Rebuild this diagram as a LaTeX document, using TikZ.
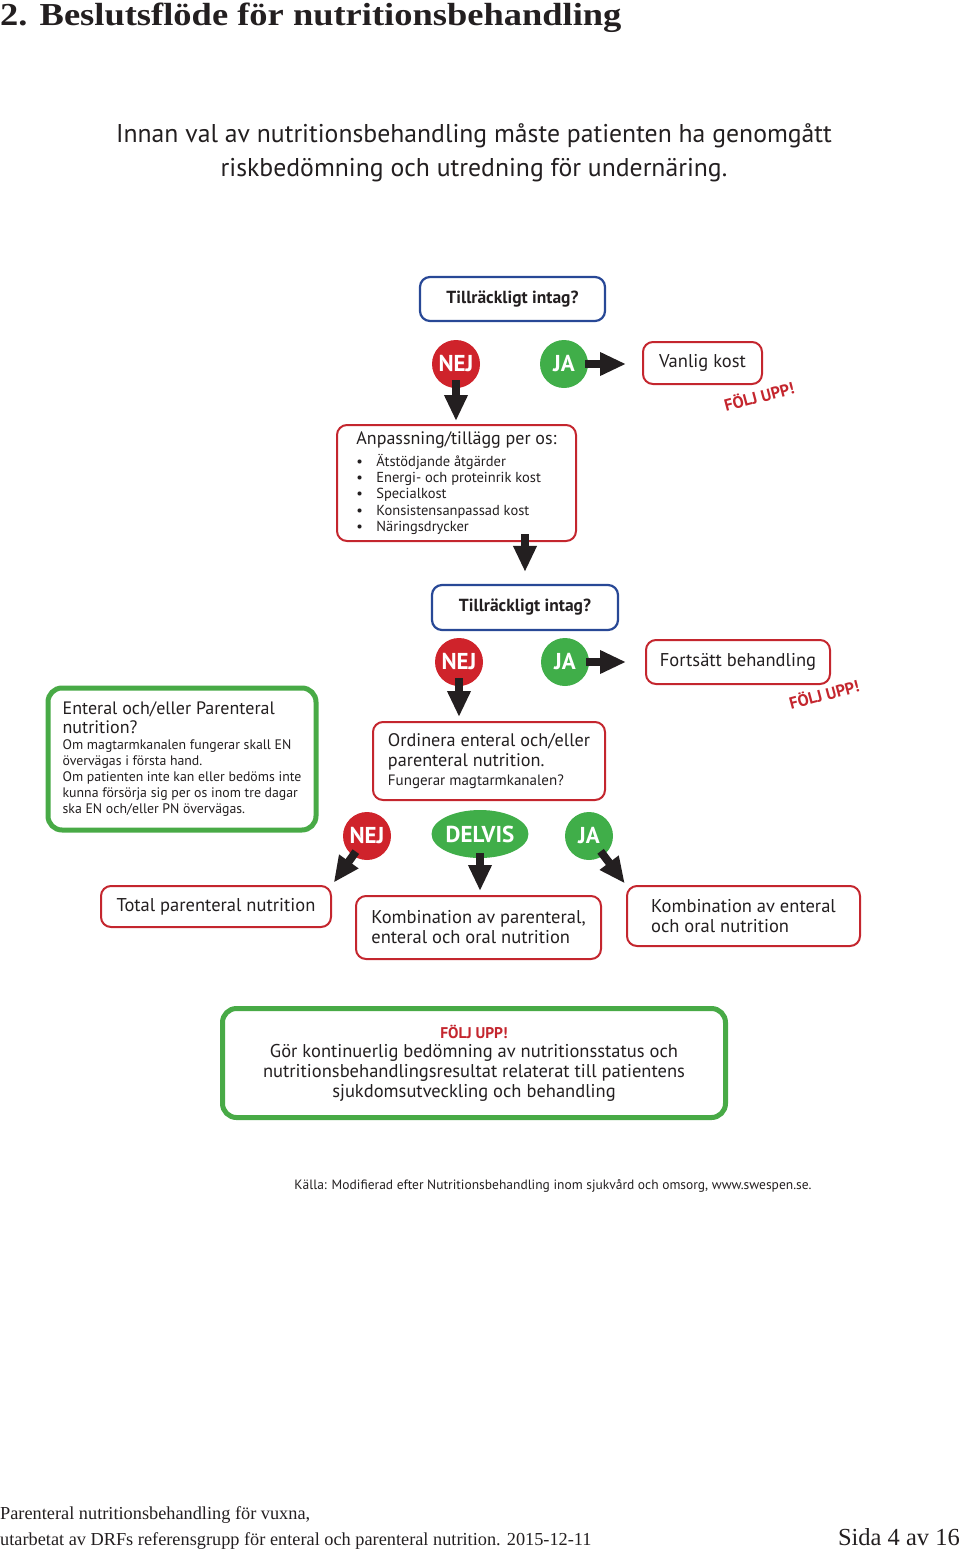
\documentclass[tikz,border=0pt]{standalone}
\usepackage{fontspec}
\setmainfont{PT Sans}
\newfontfamily\titlefont[FakeStretch=1.14]{Liberation Serif}
\newfontfamily\footfont{Liberation Serif}
\usetikzlibrary{arrows.meta,shapes.geometric}

\definecolor{inkblack}{RGB}{35,31,32}
\definecolor{nejred}{RGB}{207,35,43}
\definecolor{jagreen}{RGB}{64,174,73}
\definecolor{boxred}{RGB}{196,38,46}
\definecolor{qblue}{RGB}{40,72,150}
\definecolor{boxgreen}{RGB}{72,170,70}

\newcommand{\fsz}[2]{\fontsize{#1}{#2}\selectfont}

\begin{document}
\begin{tikzpicture}[x=1pt, y=-1pt,
    every node/.style={text=inkblack, inner sep=0pt},
    qbox/.style={draw=qblue, line width=2.2pt, rounded corners=10pt, fill=white, font=\bfseries\fsz{17.5}{20}},
    rbox/.style={draw=boxred, line width=2pt, rounded corners=10pt, fill=white, align=left, font=\fsz{18.5}{20}},
    gbox/.style={draw=boxgreen, line width=5pt, rounded corners=14pt, fill=white},
    answer/.style={circle, minimum size=48pt, text=white, font=\bfseries\fsz{23}{23}},
    nejc/.style={answer, fill=nejred},
    jac/.style={answer, fill=jagreen},
    foljupp/.style={text=boxred, font=\bfseries\fsz{16.5}{16.5}, rotate=15},
    blockarrow/.style={draw=inkblack, line width=8pt, -{Triangle[length=26pt,width=22pt]}}]

    \useasboundingbox (0,0) rectangle (960,1550);

    % Rubrik och inledning
    \node[anchor=base west, font=\titlefont\bfseries\fsz{32}{34}] (rubrik) at (0,25) {2. Beslutsflöde för nutritionsbehandling};
    \node[align=center, font=\fsz{25.7}{34}] (intro) at (474,153) {Innan val av nutritionsbehandling måste patienten ha genomgått\\riskbedömning och utredning för undernäring.};

    % Första frågan
    \node[qbox, minimum width=185pt, minimum height=44pt] (fraga1) at (512.5,299) {Tillräckligt intag?};
    \node[nejc] (nej1) at (456,364) {NEJ};
    \node[jac] (ja1) at (564,364) {JA};
    \node[rbox, minimum width=119pt, minimum height=42pt] (vanlig) at (702.5,363) {Vanlig kost};
    \node[foljupp] (folj1) at (759,396) {FÖLJ UPP!};
    \node[rbox, minimum width=239pt, minimum height=116pt, font=\fsz{14.5}{16.3}] (anpassning) at (456.5,483)
        {\fsz{18}{16.3}Anpassning/tillägg per os:\\[5.7pt]
         \makebox[20pt][l]{•}Ätstödjande åtgärder\\
         \makebox[20pt][l]{•}Energi- och proteinrik kost\\
         \makebox[20pt][l]{•}Specialkost\\
         \makebox[20pt][l]{•}Konsistensanpassad kost\\
         \makebox[20pt][l]{•}Näringsdrycker};

    % Andra frågan
    \node[qbox, minimum width=186pt, minimum height=45pt] (fraga2) at (525,607.5) {Tillräckligt intag?};
    \node[nejc] (nej2) at (459,662) {NEJ};
    \node[jac] (ja2) at (565,662) {JA};
    \node[rbox, minimum width=184pt, minimum height=44pt] (fortsatt) at (738,662) {Fortsätt behandling};
    \node[foljupp] (folj2) at (824,694) {FÖLJ UPP!};
    \node[rbox, minimum width=232pt, minimum height=78pt, font=\fsz{18.2}{20}] (ordinera) at (489,761)
        {Ordinera enteral och/eller\\parenteral nutrition.\\[-1pt]\fsz{15}{20}Fungerar magtarmkanalen?};

    % Stödruta EN/PN
    \node[gbox, minimum width=268pt, minimum height=142pt, align=left, font=\fsz{13.8}{16}] (stod) at (182,759)
        {\fsz{18}{16}Enteral och/eller Parenteral\\[3pt]
         \fsz{18}{16}nutrition?\\
         Om magtarmkanalen fungerar skall EN\\
         övervägas i första hand.\\
         Om patienten inte kan eller bedöms inte\\
         kunna försörja sig per os inom tre dagar\\
         ska EN och/eller PN övervägas.};

    % Tredje svaret
    \node[nejc] (nej3) at (367,836) {NEJ};
    \node[ellipse, fill=jagreen, minimum width=88pt, minimum height=48pt, text=white, font=\bfseries\fsz{23}{23}] (delvis) at (480,834) {DELVIS};
    \node[jac] (ja3) at (589,836) {JA};
    \node[rbox, minimum width=230pt, minimum height=41pt] (tpn) at (216,906.5) {Total parenteral nutrition};
    \node[rbox, minimum width=245pt, minimum height=63pt] (kombpe) at (478.5,927.5) {Kombination av parenteral,\\enteral och oral nutrition};
    \node[rbox, minimum width=233pt, minimum height=60pt] (kombeo) at (743.5,916) {Kombination av enteral\\och oral nutrition};

    % Uppföljning
    \node[gbox, minimum width=503pt, minimum height=109pt, align=center, font=\fsz{18.5}{19.7}] (uppfoljning) at (474,1063)
        {\color{boxred}\bfseries\fsz{15.5}{19.7}FÖLJ UPP!\\Gör kontinuerlig bedömning av nutritionsstatus och\\nutritionsbehandlingsresultat relaterat till patientens\\sjukdomsutveckling och behandling};
    \node[font=\fsz{13.5}{15}] (kalla) at (553,1186) {Källa: Modifierad efter Nutritionsbehandling inom sjukvård och omsorg, www.swespen.se.};

    % Pilar
    \draw[blockarrow, shorten <=-8pt, shorten >=3pt] (nej1) -- (nej1 |- anpassning.north);
    \draw[blockarrow, shorten <=-3pt, shorten >=16pt] (ja1) -- (ja1 -| vanlig.west);
    \draw[blockarrow, shorten <=-8pt, shorten >=12pt] (fraga2.north |- anpassning.south) -- (fraga2.north);
    \draw[blockarrow, shorten <=-8pt, shorten >=4pt] (nej2) -- (nej2 |- ordinera.north);
    \draw[blockarrow, shorten <=-3pt, shorten >=19pt] (ja2) -- (ja2 -| fortsatt.west);
    \draw[blockarrow, shorten <=-5pt, shorten >=3pt] (nej3) -- (tpn.north east);
    \draw[blockarrow, shorten <=-5pt, shorten >=4pt] (delvis) -- (delvis |- kombpe.north);
    \draw[blockarrow, shorten <=-5pt, shorten >=2pt] (ja3) -- (kombeo.north west);

    % Sidfot
    \node[anchor=base west, font=\footfont\fsz{18.3}{20}] (fot1) at (0,1519) {Parenteral nutritionsbehandling för vuxna,};
    \node[anchor=base west, font=\footfont\fsz{18.3}{20}] (fot2) at (0,1545) {utarbetat av DRFs referensgrupp för enteral och parenteral nutrition. 2015-12-11};
    \node[anchor=base east, font=\footfont\fsz{24.5}{26}] (sida) at (960,1545) {Sida 4 av 16};
\end{tikzpicture}
\end{document}
